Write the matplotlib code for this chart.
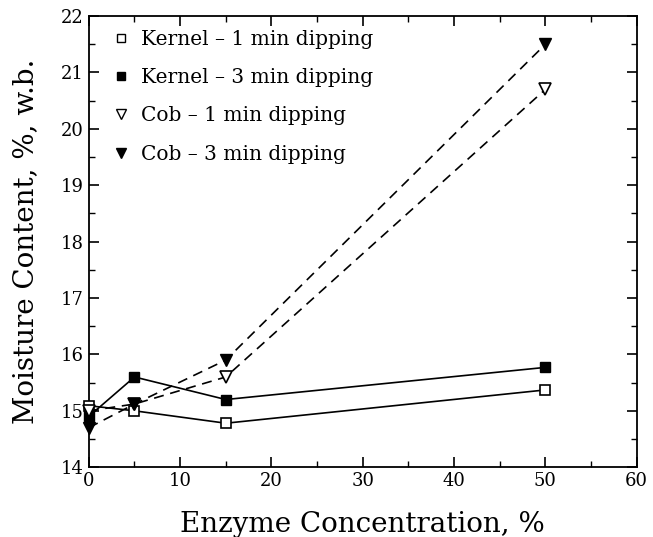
import numpy as np
import matplotlib
matplotlib.use('Agg')
import matplotlib.pyplot as plt
from matplotlib.lines import Line2D

conc = [0, 5, 15, 50]
kernel_1 = [15.09, 15.0, 14.78, 15.37]
kernel_3 = [14.9, 15.6, 15.2, 15.77]
cob_1 = [15.0, 15.12, 15.6, 20.7]
cob_3 = [14.7, 15.12, 15.9, 21.5]
labels = ['Kernel \u2013 1 min dipping', 'Kernel \u2013 3 min dipping',
          'Cob \u2013 1 min dipping', 'Cob \u2013 3 min dipping']

plt.rcParams['font.family'] = 'DejaVu Serif'

fig = plt.figure(figsize=(6.53, 5.37), dpi=100)
ax = fig.add_axes([0.136, 0.130, 0.839, 0.840])

ax.plot(conc, kernel_1, '-', color='black', lw=1.2, marker='s', ms=7,
        mfc='white', mec='black', mew=1.2, clip_on=False, zorder=3)
ax.plot(conc, kernel_3, '-', color='black', lw=1.2, marker='s', ms=7,
        mfc='black', mec='black', clip_on=False, zorder=3)
ax.plot(conc, cob_1, '--', color='black', lw=1.2, dashes=(6, 4), marker='v', ms=8,
        mfc='white', mec='black', mew=1.2, clip_on=False, zorder=3)
ax.plot(conc, cob_3, '--', color='black', lw=1.2, dashes=(6, 4), marker='v', ms=8,
        mfc='black', mec='black', clip_on=False, zorder=3)

ax.set_xlim(0, 60)
ax.set_ylim(14, 22)
ax.set_xticks(np.arange(0, 61, 10))
ax.set_xticks(np.arange(0, 61, 5), minor=True)
ax.set_yticks(np.arange(14, 23, 1))
ax.set_yticks(np.arange(14, 22.1, 0.5), minor=True)
ax.tick_params(which='both', direction='in', top=True, right=True, labelsize=13)
ax.tick_params(which='major', length=7, width=1.2)
ax.tick_params(which='minor', length=4, width=1)
for s in ax.spines.values():
    s.set_linewidth(1.3)

ax.set_xlabel('Enzyme Concentration, %', fontsize=20, labelpad=15)
ax.set_ylabel('Moisture Content, %, w.b.', fontsize=20, labelpad=16)

handles = [
    Line2D([], [], ls='none', marker='s', ms=6, mfc='white', mec='black'),
    Line2D([], [], ls='none', marker='s', ms=6, mfc='black', mec='black'),
    Line2D([], [], ls='none', marker='v', ms=7, mfc='white', mec='black'),
    Line2D([], [], ls='none', marker='v', ms=7, mfc='black', mec='black'),
]
ax.legend(handles, labels, loc='upper left', frameon=False, fontsize=14.5,
          handlelength=1, handletextpad=0.5, labelspacing=0.95,
          borderaxespad=0.3, bbox_to_anchor=(0.015, 1.0))

fig.savefig('out.png', dpi=100)
